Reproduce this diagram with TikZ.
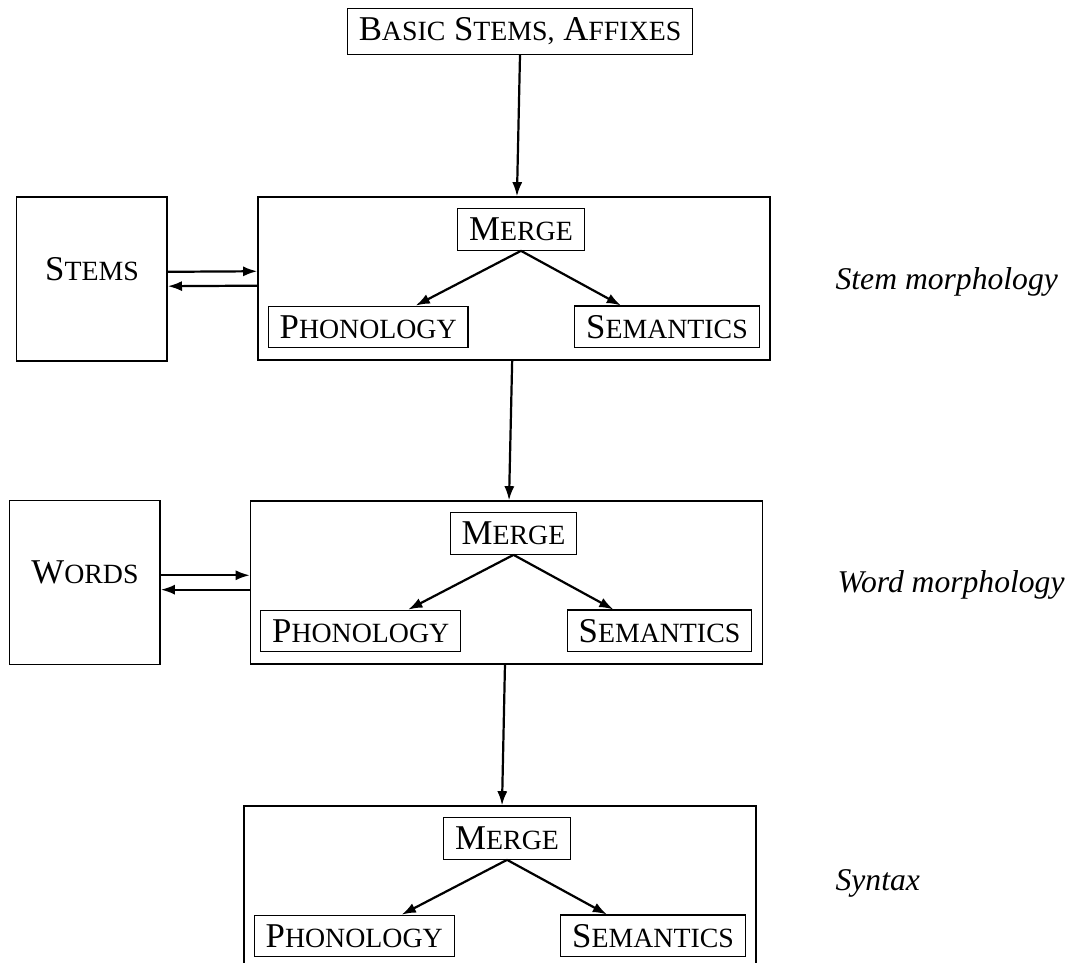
\documentclass[tikz,border=0pt]{standalone}
\usepackage{fontspec}
\setmainfont{Liberation Serif}
\usepackage{tikz}
\usetikzlibrary{positioning,calc,arrows.meta}

% fake small caps: first letter full size, rest smaller capitals
\newcommand{\smc}[2]{#1{\fontsize{8.8pt}{10pt}\selectfont #2}}

\tikzset{
    box/.style={draw, thin, font=\fontsize{11pt}{13pt}\selectfont, inner xsep=3.6pt, inner ysep=2.9pt},
    frame/.style={draw, thin, minimum width=5.69cm, minimum height=1.81cm},
    lexicon/.style={draw, thin, font=\fontsize{11pt}{13pt}\selectfont, minimum width=1.67cm, minimum height=1.82cm, text depth=0.22cm},
    level/.style={font=\fontsize{10pt}{12pt}\selectfont\itshape, anchor=base west, inner sep=0pt},
    arr/.style={-{Latex[length=4.5pt,width=3.2pt]}, line width=0.7pt}
}

\begin{document}
\begin{tikzpicture}
    \useasboundingbox (0,0) rectangle (11.867,-10.7);

    \node[box] (basic) at (5.778,-0.35) {\smc{B}{ASIC} \smc{S}{TEMS,} \smc{A}{FFIXES}};

    % the three levels: frame with merge, phonology and semantics
    \foreach \lvl/\x/\y in {stem/5.711/-3.094, word/5.628/-6.472, syn/5.556/-9.861} {
        \node[frame] (\lvl-frame) at (\x,\y) {};
        \node[box] (\lvl-merge) at (\x+0.078,\y+0.544) {\smc{M}{ERGE}};
        \node[box] (\lvl-phon) at (\x-1.62,\y-0.539) {\smc{P}{HONOLOGY}};
        \node[box] (\lvl-sem) at (\x+1.70,\y-0.539) {\smc{S}{EMANTICS}};
        \draw[arr] (\lvl-merge.south) -- ([xshift=-0.59cm]\lvl-phon.north east);
        \draw[arr] (\lvl-merge.south) -- ([xshift=0.52cm]\lvl-sem.north west);
    }

    \node[lexicon] (stems) at (1.022,-3.1) {\smc{S}{TEMS}};
    \node[lexicon] (words) at (0.944,-6.472) {\smc{W}{ORDS}};

    \draw[arr] ([yshift=0.08cm]stems.east) -- ([yshift=0.08cm]stem-frame.west);
    \draw[arr] ([yshift=-0.08cm]stem-frame.west) -- ([yshift=-0.08cm]stems.east);
    \draw[arr] ([yshift=0.08cm]words.east) -- ([yshift=0.08cm]word-frame.west);
    \draw[arr] ([yshift=-0.08cm]word-frame.west) -- ([yshift=-0.08cm]words.east);

    \draw[arr] (basic.south) -- ([xshift=0.033cm]stem-frame.north);
    \draw[arr] ([xshift=-0.02cm]stem-frame.south) -- ([xshift=0.028cm]word-frame.north);
    \draw[arr] ([xshift=-0.017cm]word-frame.south) -- ([xshift=0.022cm]syn-frame.north);

    \node[level] (stem-label) at (9.278,-3.222) {Stem morphology};
    \node[level] (word-label) at (9.3,-6.578) {Word morphology};
    \node[level] (syn-label) at (9.278,-9.9) {Syntax};
\end{tikzpicture}
\end{document}
